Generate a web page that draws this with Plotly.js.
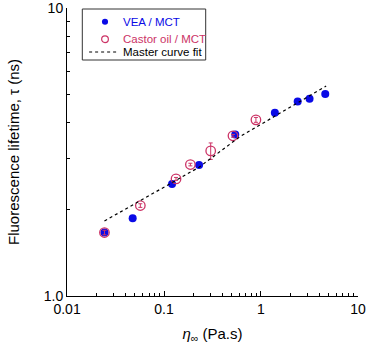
<!DOCTYPE html>
<html>
<head>
<meta charset="utf-8">
<script src="https://cdn.plot.ly/plotly-3.0.1.min.js"></script>
<style>
  html, body { margin: 0; padding: 0; background: #fff; }
  #chart { width: 367px; height: 353px; }
</style>
</head>
<body>
<div id="chart"></div>
<script>
// VEA / MCT (filled blue)
const veaViscosity = [0.0243, 0.0475, 0.121, 0.23, 0.543, 1.39, 2.39, 3.17, 4.6];
const veaLifetime = [1.66, 1.86, 2.45, 2.85, 3.64, 4.33, 4.74, 4.84, 5.03];

// Castor oil / MCT (open red)
const castorViscosity = [0.0243, 0.057, 0.133, 0.187, 0.303, 0.514, 0.887];
const castorLifetime = [1.66, 2.06, 2.55, 2.86, 3.19, 3.60, 4.09];
const castorError = [0.03, 0.03, 0.03, 0.03, 0.21, 0.04, 0.08];

// Master curve fit (dotted)
const fitViscosity = [0.0243, 0.23, 0.61, 4.7];
const fitLifetime = [1.82, 2.80, 3.58, 5.36];

const seriesNames = ['VEA / MCT', 'Castor oil / MCT', 'Master curve fit'];

const blue = '#0a0ae6';
const red = '#cc3366';

const traces = [
    {
        x: veaViscosity, y: veaLifetime,
        type: 'scatter', mode: 'markers', name: seriesNames[0], showlegend: false,
        marker: { color: blue, size: 8, symbol: 'circle' }
    },
    {
        x: castorViscosity, y: castorLifetime,
        type: 'scatter', mode: 'markers', name: seriesNames[1], showlegend: false,
        marker: { color: 'rgba(255,255,255,0)', size: 9.5, symbol: 'circle', line: { color: red, width: 1.3 } },
        error_y: { type: 'data', array: castorError, visible: true, color: red, thickness: 1, width: 2 }
    },
    {
        x: fitViscosity, y: fitLifetime,
        type: 'scatter', mode: 'lines', name: seriesNames[2], showlegend: false,
        line: { color: '#000', width: 1.2, dash: 'dot' }
    }
];

const decadeMinors = [];
[0.01, 0.1, 1].forEach(d => {
    for (let k = 2; k <= 9; k++) decadeMinors.push(d * k);
});

// compact legend box drawn in paper coordinates
const legX0 = 0.0526, legX1 = 0.4766, legY0 = 0.8194, legY1 = 0.9965;
const rowY = [0.9524, 0.8913, 0.8472];
const symX = 0.1306, rx = 0.0105, ry = 0.0106;
const textX = 0.185;
const rowColors = [blue, red, '#000'];

const legendShapes = [
    { type: 'rect', xref: 'paper', yref: 'paper', x0: legX0, x1: legX1, y0: legY0, y1: legY1,
      line: { color: '#333', width: 1 }, fillcolor: '#fff', layer: 'above' },
    { type: 'circle', xref: 'paper', yref: 'paper', x0: symX - rx, x1: symX + rx, y0: rowY[0] - ry, y1: rowY[0] + ry,
      line: { color: blue, width: 0 }, fillcolor: blue, layer: 'above' },
    { type: 'circle', xref: 'paper', yref: 'paper', x0: symX - rx * 1.1, x1: symX + rx * 1.1, y0: rowY[1] - ry * 1.1, y1: rowY[1] + ry * 1.1,
      line: { color: red, width: 1.2 }, fillcolor: 'rgba(0,0,0,0)', layer: 'above' },
    { type: 'line', xref: 'paper', yref: 'paper', x0: 0.076, x1: 0.171, y0: rowY[2], y1: rowY[2],
      line: { color: '#000', width: 1, dash: 'dot' }, layer: 'above' }
];

const legendText = seriesNames.map((n, i) => ({
    xref: 'paper', yref: 'paper', x: textX, y: rowY[i],
    xanchor: 'left', yanchor: 'middle', showarrow: false,
    text: n, font: { size: 11.5, color: rowColors[i] }
}));

const layout = {
    width: 367,
    height: 353,
    paper_bgcolor: '#fff',
    plot_bgcolor: '#fff',
    font: { family: 'Liberation Sans, Arial, sans-serif', size: 14, color: '#000' },
    margin: { t: 8, r: 9, b: 57, l: 67 },
    showlegend: false,
    shapes: legendShapes,
    annotations: legendText,
    xaxis: {
        type: 'log',
        range: [-2.0005, 1.0005],
        showline: true, linecolor: '#000', linewidth: 1,
        mirror: false, showgrid: false, zeroline: false,
        ticks: 'inside', ticklen: 5, tickcolor: '#000',
        ticklabeloverflow: 'allow',
        tickvals: [0.01, 0.1, 1, 10],
        ticktext: ['0.01', '0.1', '1', '10'],
        minor: { tickvals: decadeMinors, ticks: 'inside', ticklen: 3, tickcolor: '#000' },
        title: { text: '<i>η</i><sub>∞</sub> (Pa.s)', font: { size: 15 }, standoff: 12 }
    },
    yaxis: {
        type: 'log',
        range: [-0.0005, 1.0005],
        showline: true, linecolor: '#000', linewidth: 1,
        mirror: false, showgrid: false, zeroline: false,
        ticks: 'inside', ticklen: 5, tickcolor: '#000',
        ticklabeloverflow: 'allow',
        tickvals: [1, 10],
        ticktext: ['1.0', '10'],
        minor: { tickvals: [2, 3, 4, 5, 6, 7, 8, 9], ticks: 'inside', ticklen: 3, tickcolor: '#000' },
        title: { text: 'Fluorescence lifetime, τ (ns)', font: { size: 15 }, standoff: 20 }
    }
};

Plotly.newPlot('chart', traces, layout, { displayModeBar: false, staticPlot: true });
</script>
</body>
</html>
